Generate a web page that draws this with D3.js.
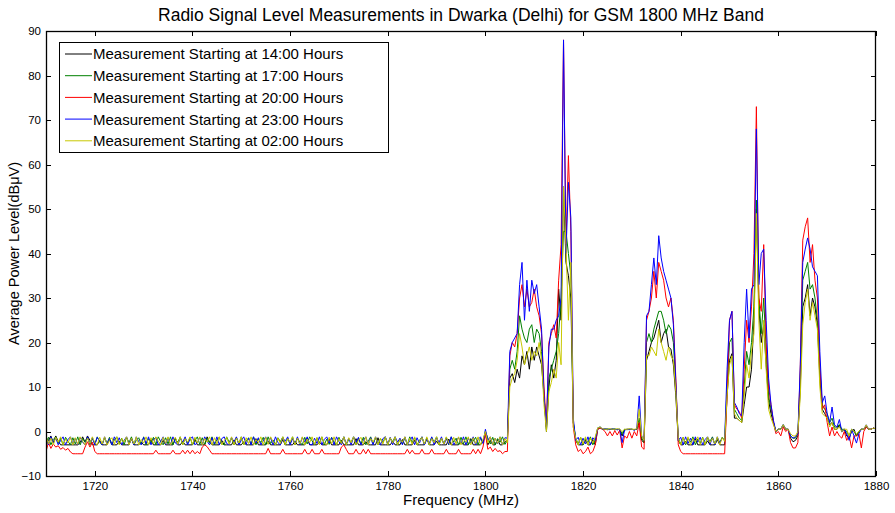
<!DOCTYPE html>
<html>
<head>
<meta charset="utf-8">
<script src="https://cdn.jsdelivr.net/npm/d3@7"></script>
<style>
  html, body { margin: 0; padding: 0; background: #fff; }
  svg { display: block; font-family: "Liberation Sans", Arial, sans-serif; }
</style>
</head>
<body>
<svg id="chart" width="895" height="513"></svg>
<script>
// ---- Data ----
const title = "Radio Signal Level Measurements in Dwarka (Delhi) for GSM 1800 MHz Band";
const xLabel = "Frequency (MHz)";
const yLabel = "Average Power Level(dBμV)";
const xTicks = [1720, 1740, 1760, 1780, 1800, 1820, 1840, 1860, 1880];
const yTicks = [-10, 0, 10, 20, 30, 40, 50, 60, 70, 80, 90];
const freqStart = 1710;   // MHz, first sample
const freqStep = 0.5;     // MHz between samples

const seriesNames = [
  "Measurement Starting at 14:00 Hours",
  "Measurement Starting at 17:00 Hours",
  "Measurement Starting at 20:00 Hours",
  "Measurement Starting at 23:00 Hours",
  "Measurement Starting at 02:00 Hours"
];

const level14h = [
  -3,-2,-1,-2.5,-1,-2.2,-3,-3,-3,-3,-3,-3,-3,-3,-2.5,-1.2,-2.4,-1,-2,-3,
  -3,-3,-2,-3,-3,-3,-1.8,-3,-3,-3,-2.2,-3,-3,-3,-3,-1.6,-3,-3,-3,-2.4,
  -3,-3,-3,-1.8,-3,-3,-3,-3,-2,-3,-3,-3,-3,-1.5,-3,-3,-2.2,-3,-3,-3,
  -3,-1.7,-3,-3,-3,-3,-1.2,-2.4,-3,-3,-3,-3,-2,-3,-3,-3,-3,-1.9,-3,-3,
  -3,-2.3,-3,-3,-3,-3,-1.6,-3,-3,-3,-3,-2.1,-3,-3,-3,-3,-3,-1.8,-3,-3,
  -3,-3,-2.2,-3,-3,-3,-3,-1.5,-3,-3,-3,-3,-2.4,-3,-3,-3,-1.7,-3,-3,-3,
  -3,-2,-3,-3,-3,-3,-3,-1.6,-3,-3,-3,-2.3,-3,-3,-3,-3,-1.4,-3,-3,-3,
  -3,-3,-2.2,-3,-3,-3,-1.8,-3,-3,-3,-3,-2,-3,-3,-3,-3,-1.5,-3,-3,-3,
  -2.2,-3,-3,-3,-3,-1.7,-3,-3,-3,-3,-2.4,-3,-3,-3,-1.6,-3,-3,-3,-3,-2,
  -0.5,-3,-2,-3,-3,-1.8,-3,-3,-2.4,-2,12,13,11,14,12,17,15,18,14,19,
  16,19,17,15,8,0,10,15,12,16,32,25,55,38,35,30,2,-2,-3,-3,
  -3,-2,-3,-3,-1.8,-3,0.5,0.8,0.5,0.5,0.4,0.5,0.5,0.4,0.5,0.5,-1,0.4,0.5,0.5,
  0.5,0.4,0.5,2,-2,-2.5,16,18,20,21,23,25,20,22,23,19,18.5,15,8,-2,
  -3,-3,-2.2,-3,-3,-3,-1.6,-3,-3,-3,-3,-2.1,-3,-3,-3,-1.8,-3,-3,-3,8,
  16,17.5,3,3,2.5,2,6,10,10,14,25,50,28,20,24,15,7,4,2,0,
  0.5,0.5,1.5,0.5,0.5,-1.5,-2.3,-2,-1,10,28,30,33,26,30,28,24,12,5,4,
  3,1.5,2,0.5,0.5,1.5,0,0.5,-1,-1.5,0,0.5,-1,0,0.5,0.5,1,0.5,0.5,0.8,
  0.5
];

const level17h = [
  -2.5,-1.3,-3,-1.8,-1.2,-2.7,-1.5,-3,-1.3,-2.2,-3,-1.4,-2.8,-1.2,-3,-1.6,-2.4,-1.3,-3,-1.5,
  -2.8,-1.2,-2.4,-3,-1.4,-2.7,-1.3,-3,-1.9,-1.2,-2.8,-1.5,-3,-1.3,-2.5,-1.2,-3,-2,-1.4,-2.9,
  -1.2,-3,-1.6,-2.6,-1.3,-3,-1.2,-2.3,-3,-1.4,-2.8,-1.2,-3,-1.7,-2.4,-1.2,-3,-1.5,-2.7,-1.3,
  -3,-2,-1.2,-2.9,-1.4,-3,-1.5,-2.6,-1.2,-3,-1.8,-1.3,-2.7,-3,-1.2,-2.4,-1.5,-3,-1.3,-2.8,
  -1.2,-3,-2.2,-1.4,-2.9,-1.2,-3,-1.6,-2.5,-1.3,-3,-1.2,-2.7,-1.9,-3,-1.4,-2.3,-1.2,-3,-1.5,
  -2.7,-1.2,-3,-1.5,-2.4,-3,-1.3,-2.8,-1.2,-2.1,-3,-1.4,-2.6,-1.2,-3,-1.7,-2.9,-1.3,-2.4,-3,
  -1.3,-2.6,-1.2,-3,-1.8,-2.4,-1.2,-3,-1.5,-2.8,-1.3,-3,-2.2,-1.2,-2.7,-1.4,-3,-1.6,-2.5,-1.2,
  -3,-1.5,-2.3,-1.2,-3,-1.7,-2.8,-1.3,-3,-1.2,-2.5,-1.4,-3,-2,-1.2,-2.9,-1.5,-3,-1.3,-2.4,
  -1.2,-3,-1.6,-2.7,-1.3,-3,-1.2,-2.4,-1.5,-3,-1.3,-2.8,-1.2,-3,-1.8,-2.2,-1.3,-3,-1.5,-2.6,
  0,-1.5,-2.8,-1.3,-3,-1.6,-2.4,-1.2,-2.9,-2,14,16,14,18,26,23,21,20,23,24,
  20,23,22,18,8,0.5,12,14,16,18,22,30,45,45,40,35,2,-1.5,-2.8,-1.3,
  -3,-1.6,-2.5,-1.2,-3,-1.8,0.8,1,0.5,0.5,0.6,0.5,0.5,0.6,0.4,0.5,-0.5,0.5,0.4,0.5,
  0.5,0.4,0.5,3,-1.5,-2.5,20,22,20,23,25,27,27,25,22,24,23,20,10,-1.5,
  -2.8,-1.3,-3,-1.5,-2.4,-1.2,-3,-1.7,-2.6,-1.3,-3,-1.4,-2.2,-1.2,-2.9,-1.5,-2.5,-1.3,-2.1,10,
  20,21,5,4,3,2.5,10,18,15,20,28,52,30,22,30,18,8,5,2,0,
  0.5,0.5,1.5,0.5,0.5,-1,-1.5,-1.5,-0.5,12,34,36,38,32,33,30,25,14,6,5,
  4,2,3,1,1,1.5,0.5,0.5,0,-1,0.5,0,-1,0,0.5,0.5,1,0.5,0.5,0.8,
  0.5
];

const level20h = [
  -4.5,-2.5,-3.8,-2.8,-3.5,-3.2,-4,-3.6,-4.2,-3.8,-4.6,-5,-5,-5,-5,-5,-3.5,-2.3,-3.5,-2.4,
  -4.5,-5,-5,-5,-5,-5,-5,-5,-5,-5,-5,-5,-5,-5,-5,-5,-5,-5,-5,-5,
  -5,-5,-5,-5,-5,-4.2,-5,-5,-5,-5,-5,-5,-4.2,-5,-5,-5,-4.2,-5,-4.2,-5,
  -4.2,-5,-4.5,-5,-3.5,-3,-3.4,-4.2,-5,-5,-5,-5,-5,-5,-5,-5,-5,-5,-5,-5,
  -5,-5,-5,-5,-5,-5,-5,-5,-5,-5,-5,-3.8,-5,-5,-5,-5,-5,-4,-5,-5,
  -5,-5,-5,-5,-5,-5,-4,-5,-5,-4,-5,-5,-5,-4,-5,-5,-5,-5,-5,-5,
  -5,-3.5,-3,-4,-5,-5,-5,-4,-5,-5,-4,-5,-4,-5,-5,-5,-5,-5,-5,-5,
  -5,-5,-5,-5,-5,-5,-5,-5,-4,-5,-4.2,-5,-5,-5,-4,-5,-5,-5,-4,-5,
  -5,-5,-5,-5,-4,-5,-5,-5,-5,-4,-5,-5,-5,-5,-5,-4,-5,-4,-5,-3.5,
  -0.5,-4,-3.5,-4.5,-3.8,-4.5,-4.3,-5,-4.5,-4.5,17,20,19,22,30,33,28,32,28,29,
  32,28,26,22,10,1,20,22,24,21,34,42,88,42,62,45,1,-3,-4.5,-4,
  -5,-4.5,-3.5,-5,-4.5,-3,0.5,0.8,0.5,0,-1,0,-1,0.2,-0.8,0.3,-3.7,-1,-1.5,0,
  -1.5,0,-1,2,-3.5,-4,25,27,30,36,30,38,36,34,30,28,30,25,12,-3,
  -4.5,-5,-5,-5,-5,-5,-5,-5,-5,-5,-5,-5,-5,-5,-5,-5,-5,-5,-5,8,
  25,27,6,5,4.5,3,14,25,20,28,40,73,30,27,42,20,10,6,2,-0.5,
  0,-1,1,0,0.5,-2.5,-3.7,-3.7,-2.5,15,43,46,48,38,42,34,30,15,5,6,
  2,-1,1,-1,0,-1,-1.5,0,-2,-1,-3.7,-1,-1,-0.5,-3.7,0,1,0.5,0.5,0.8,
  0.5
];

const level23h = [
  -1.5,-3,-1.2,-2.6,-1.4,-3,-2,-1.2,-3,-1.8,-1.2,-2.8,-1.5,-3,-1.3,-2.4,-3,-1.2,-2.7,-1.4,
  -3,-1.3,-2.2,-3,-1.2,-2.8,-1.6,-3,-1.2,-2.5,-1.4,-3,-2,-1.2,-2.9,-1.5,-3,-1.2,-2.3,-3,
  -1.3,-2.7,-1.2,-3,-1.8,-1.3,-3,-2.2,-1.2,-2.9,-1.4,-3,-1.2,-2.6,-3,-1.5,-2.4,-1.2,-3,-1.7,
  -1.2,-3,-2.5,-1.3,-2.9,-1.2,-2.2,-3,-1.4,-2.8,-1.2,-3,-1.6,-1.2,-2.7,-3,-1.3,-2.4,-1.2,-3,
  -2,-1.2,-2.9,-1.5,-3,-1.2,-2.6,-1.4,-3,-2.1,-1.2,-2.8,-1.3,-3,-1.2,-2.5,-3,-1.4,-2.2,-1.2,
  -3,-1.6,-2.8,-1.2,-3,-1.3,-2.4,-1.2,-2.9,-3,-1.5,-2.7,-1.2,-3,-1.8,-1.2,-2.6,-1.4,-3,-1.2,
  -2.3,-3,-1.2,-2.8,-1.5,-3,-1.2,-2.5,-1.3,-3,-2,-1.2,-2.9,-1.4,-3,-1.2,-2.7,-3,-1.6,-1.2,
  -2.8,-1.3,-3,-1.2,-2.4,-1.5,-3,-1.2,-2.9,-2.1,-1.2,-3,-1.4,-2.6,-1.2,-3,-1.7,-2.8,-1.2,-3,
  -1.4,-2.5,-1.2,-3,-1.6,-2.9,-1.2,-3,-2.2,-1.3,-2.8,-1.2,-3,-1.5,-2.6,-1.2,-3,-1.8,-1.2,-2.7,
  0.5,-2,-1.2,-3,-1.5,-2.8,-1.2,-3,-1.4,-1.5,18,20,21,22,33,38,25,34,27,34,
  31,33,28,23,8,1,19,23,23,25,26,30,88,40,56,48,3,-2,-1.3,-3,
  -1.5,-2.8,-1.2,-3,-1.4,-2,0.8,1,0.5,0.6,0.5,0.4,0.6,0.5,0.4,0.5,-2.5,0.3,0.5,0.4,
  0.5,0.3,0.6,8,-1,-2,26,27,33,39,33,44,39,36,34,32,30,24,11,-2,
  -1.3,-3,-1.2,-2.7,-1.5,-3,-1.2,-2.4,-1.3,-3,-1.8,-1.2,-2.9,-1.4,-3,-1.2,-2.6,-1.5,-2,14,
  25,27,6.5,5.5,4,3.5,20,32,21,32,33,68,33,40,41,25,12,6,2.5,0,
  0.5,0.5,1.5,0.5,0.5,-1,-1.5,-1.2,-0.5,15,38,41,43.5,41,37,36,35,18,6.5,8,
  4,2,5.5,1.5,1,2.7,0,0.5,-0.5,-2,0.5,-1,-2.6,-0.5,0.5,0.5,1.5,0.5,0.5,0.8,
  0.5
];

const level02h = [
  -1.2,-2.8,-1.5,-3,-1.3,-2.4,-1.2,-3,-1.7,-2.6,-1.2,-3,-1.4,-2.9,-1.2,-2.2,-3,-1.5,-2.7,-1.2,
  -2.5,-3,-1.3,-2.8,-1.2,-3,-2,-1.4,-2.9,-1.2,-3,-1.6,-2.4,-1.2,-3,-1.5,-2.8,-1.2,-3,-1.8,
  -2.6,-1.2,-3,-1.4,-2.8,-1.2,-2.2,-3,-1.3,-2.7,-1.2,-3,-1.9,-1.3,-2.9,-1.2,-3,-1.6,-2.4,-1.2,
  -2.9,-1.3,-2.6,-1.2,-3,-1.6,-2.4,-1.2,-3,-1.4,-2.8,-1.2,-3,-2.1,-1.3,-2.9,-1.2,-3,-1.5,-2.6,
  -1.2,-3,-1.4,-2.7,-1.2,-3,-1.8,-2.5,-1.2,-3,-1.3,-2.9,-1.2,-2.3,-3,-1.5,-2.7,-1.2,-3,-1.6,
  -2.4,-1.2,-3,-1.5,-2.8,-1.2,-3,-1.7,-2.5,-1.2,-2.9,-1.4,-3,-1.2,-2.6,-3,-1.3,-2.8,-1.2,-3,
  -1.6,-2.7,-1.2,-3,-1.4,-2.5,-1.2,-3,-2,-1.3,-2.9,-1.2,-3,-1.6,-2.4,-1.2,-3,-1.5,-2.8,-1.2,
  -3,-1.4,-2.6,-1.2,-3,-1.8,-2.4,-1.2,-3,-1.5,-2.9,-1.2,-3,-2.2,-1.3,-2.8,-1.2,-3,-1.6,-2.5,
  -1.2,-3,-1.5,-2.9,-1.2,-2.6,-3,-1.3,-2.8,-1.2,-3,-1.7,-2.4,-1.2,-3,-1.4,-2.7,-1.2,-3,-1.8,
  0,-2.6,-1.2,-3,-1.5,-2.7,-1.2,-3,-1.6,-2.5,10,12,13,16,22,19,15,17,19,16,
  18,17,20,16,6,0,9,11,14,12,20,15,55,42,25,38,1,-1.5,-3,-1.3,
  -2.8,-1.2,-3,-1.5,-2.6,-1.2,0.8,1,0.6,0.5,0.5,0.6,0.5,0.5,0.6,0.5,0,0.5,0.5,0.6,
  0.5,0.5,0.6,5,-1,-2,17,17,19,18,17,23,20,18,16,19,17,16,9,-1.5,
  -3,-1.3,-2.7,-1.2,-3,-1.6,-2.4,-1.2,-2.9,-1.4,-3,-1.2,-2.5,-1.5,-2.8,-1.2,-3,-1.4,-2.2,8,
  15,17,4,3,2.5,2,8,15,12,18,22,49,25,14,25,14,5,3,1.5,0,
  0.5,0.5,1.5,0.5,0.5,-0.5,-1,-1,0,8,24,29,32,25,29,26,23,10,4,3.5,
  3,1,2,0.5,0.5,1,0,0.5,0.5,-1,0.5,0,-0.5,0,0.5,0.5,1.5,0.5,0.5,0.8,
  0.5
];

const seriesColors = ["#000000", "#008000", "#ff0000", "#0000ff", "#c8c800"];
const seriesValues = [level14h, level17h, level20h, level23h, level02h];

// ---- Layout ----
const W = 895, H = 513;
const plot = { left: 46, right: 876, top: 31, bottom: 476 };
const font = '"Liberation Sans", Arial, sans-serif';

const svg = d3.select("#chart");
svg.append("rect").attr("width", W).attr("height", H).attr("fill", "#fff");

const x = d3.scaleLinear().domain([1710, 1880]).range([plot.left, plot.right]);
const y = d3.scaleLinear().domain([-10, 90]).range([plot.bottom, plot.top]);

// Axes (MATLAB style: inward ticks on all four sides)
const axB = svg.append("g").attr("transform", `translate(0,${plot.bottom})`)
  .call(d3.axisBottom(x).tickValues(xTicks).tickSizeInner(-5).tickSizeOuter(0).tickPadding(6).tickFormat(d3.format("d")));
const axT = svg.append("g").attr("transform", `translate(0,${plot.top})`)
  .call(d3.axisTop(x).tickValues(xTicks).tickSizeInner(-5).tickSizeOuter(0).tickFormat(""));
const axL = svg.append("g").attr("transform", `translate(${plot.left},0)`)
  .call(d3.axisLeft(y).tickValues(yTicks).tickSizeInner(-5).tickSizeOuter(0).tickPadding(5).tickFormat(d3.format("d")));
const axR = svg.append("g").attr("transform", `translate(${plot.right},0)`)
  .call(d3.axisRight(y).tickValues(yTicks).tickSizeInner(-5).tickSizeOuter(0).tickFormat(""));

[axB, axT, axL, axR].forEach(g => {
  g.select(".domain").remove();
  g.selectAll("line").attr("stroke", "#000").attr("stroke-width", 1).attr("shape-rendering", "crispEdges");
  g.selectAll("text").attr("font-family", font).attr("font-size", 11.5).attr("fill", "#000");
});

// Data lines
const line = d3.line()
  .x((d, i) => x(freqStart + i * freqStep))
  .y(d => y(d));

svg.append("defs").append("clipPath").attr("id", "clip")
  .append("rect").attr("x", plot.left).attr("y", plot.top)
  .attr("width", plot.right - plot.left).attr("height", plot.bottom - plot.top);

const lines = svg.append("g").attr("clip-path", "url(#clip)");
seriesValues.forEach((vals, k) => {
  lines.append("path")
    .datum(vals)
    .attr("d", line)
    .attr("fill", "none")
    .attr("stroke", seriesColors[k])
    .attr("stroke-width", 1)
    .attr("stroke-linejoin", "round");
});

// Plot box
svg.append("rect")
  .attr("x", plot.left + 0.5).attr("y", plot.top + 0.5)
  .attr("width", plot.right - plot.left - 1).attr("height", plot.bottom - plot.top)
  .attr("fill", "none").attr("stroke", "#000").attr("stroke-width", 1.3);

// Title and axis labels
svg.append("text")
  .attr("x", (plot.left + plot.right) / 2).attr("y", 21)
  .attr("text-anchor", "middle").attr("font-family", font).attr("font-size", 17.5)
  .text(title);

svg.append("text")
  .attr("x", (plot.left + plot.right) / 2).attr("y", 505)
  .attr("text-anchor", "middle").attr("font-family", font).attr("font-size", 15)
  .text(xLabel);

svg.append("text")
  .attr("transform", `translate(19,${(plot.top + plot.bottom) / 2}) rotate(-90)`)
  .attr("text-anchor", "middle").attr("font-family", font).attr("font-size", 14.5)
  .text(yLabel);

// Legend
const legend = svg.append("g");
legend.append("rect")
  .attr("x", 59.5).attr("y", 42.5).attr("width", 329).attr("height", 110)
  .attr("fill", "#fff").attr("stroke", "#000").attr("stroke-width", 1);
seriesNames.forEach((name, k) => {
  const cy = 54 + k * 21.7;
  legend.append("line")
    .attr("x1", 65).attr("x2", 92).attr("y1", cy).attr("y2", cy)
    .attr("stroke", seriesColors[k]).attr("stroke-width", 1);
  legend.append("text")
    .attr("x", 93).attr("y", cy).attr("dy", "0.36em")
    .attr("font-family", font).attr("font-size", 15).attr("fill", "#000")
    .text(name);
});
</script>
</body>
</html>
